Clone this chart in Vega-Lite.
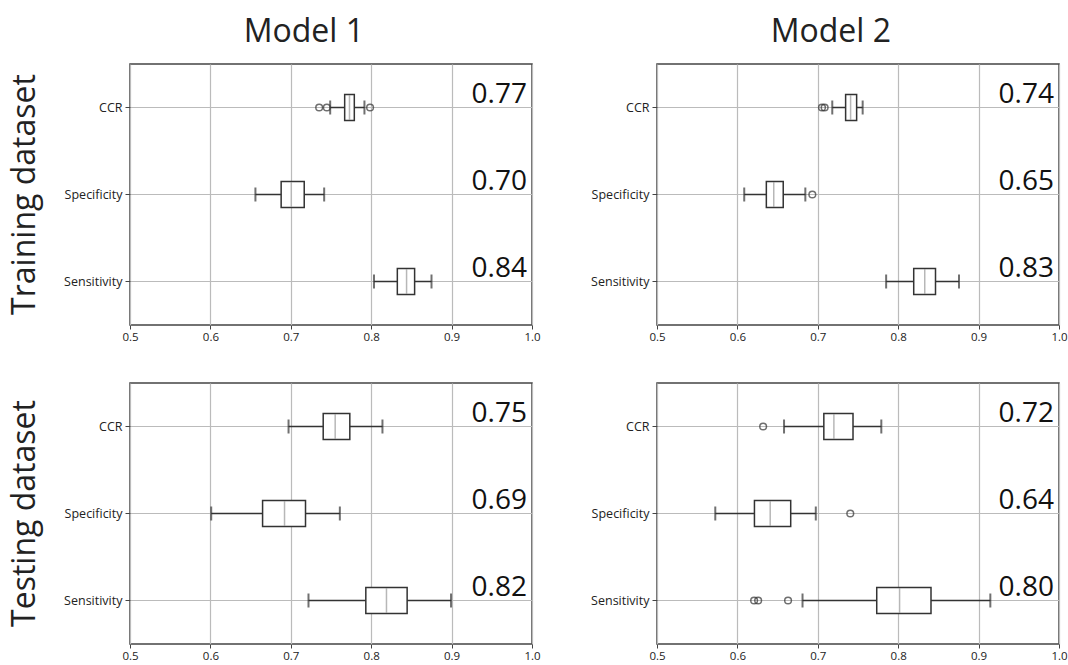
{
  "$schema": "https://vega.github.io/schema/vega-lite/v6.json",
  "padding": {"left": 8, "top": 16, "right": 5, "bottom": 5},
  "data": {
    "values": [
      {"kind": "box", "dataset": "Training dataset", "model": "Model 1", "metric": "CCR", "min": 0.749, "q1": 0.767, "median": 0.773, "q3": 0.779, "max": 0.7916, "label": "0.77"},
      {"kind": "box", "dataset": "Training dataset", "model": "Model 1", "metric": "Specificity", "min": 0.656, "q1": 0.688, "median": 0.7006, "q3": 0.7167, "max": 0.7415, "label": "0.70"},
      {"kind": "box", "dataset": "Training dataset", "model": "Model 1", "metric": "Sensitivity", "min": 0.8035, "q1": 0.8325, "median": 0.844, "q3": 0.854, "max": 0.875, "label": "0.84"},
      {"kind": "out", "dataset": "Training dataset", "model": "Model 1", "metric": "CCR", "value": 0.7353},
      {"kind": "out", "dataset": "Training dataset", "model": "Model 1", "metric": "CCR", "value": 0.7448},
      {"kind": "out", "dataset": "Training dataset", "model": "Model 1", "metric": "CCR", "value": 0.7986},

      {"kind": "box", "dataset": "Training dataset", "model": "Model 2", "metric": "CCR", "min": 0.718, "q1": 0.7346, "median": 0.7408, "q3": 0.7483, "max": 0.7558, "label": "0.74"},
      {"kind": "box", "dataset": "Training dataset", "model": "Model 2", "metric": "Specificity", "min": 0.6085, "q1": 0.636, "median": 0.6452, "q3": 0.657, "max": 0.6845, "label": "0.65"},
      {"kind": "box", "dataset": "Training dataset", "model": "Model 2", "metric": "Sensitivity", "min": 0.785, "q1": 0.8193, "median": 0.833, "q3": 0.8464, "max": 0.8756, "label": "0.83"},
      {"kind": "out", "dataset": "Training dataset", "model": "Model 2", "metric": "CCR", "value": 0.7052},
      {"kind": "out", "dataset": "Training dataset", "model": "Model 2", "metric": "CCR", "value": 0.7085},
      {"kind": "out", "dataset": "Training dataset", "model": "Model 2", "metric": "Specificity", "value": 0.6932},

      {"kind": "box", "dataset": "Testing dataset", "model": "Model 1", "metric": "CCR", "min": 0.6972, "q1": 0.7403, "median": 0.7552, "q3": 0.7734, "max": 0.814, "label": "0.75"},
      {"kind": "box", "dataset": "Testing dataset", "model": "Model 1", "metric": "Specificity", "min": 0.601, "q1": 0.6649, "median": 0.6922, "q3": 0.7183, "max": 0.761, "label": "0.69"},
      {"kind": "box", "dataset": "Testing dataset", "model": "Model 1", "metric": "Sensitivity", "min": 0.722, "q1": 0.7933, "median": 0.819, "q3": 0.8447, "max": 0.8993, "label": "0.82"},

      {"kind": "box", "dataset": "Testing dataset", "model": "Model 2", "metric": "CCR", "min": 0.658, "q1": 0.7075, "median": 0.72, "q3": 0.7438, "max": 0.779, "label": "0.72"},
      {"kind": "box", "dataset": "Testing dataset", "model": "Model 2", "metric": "Specificity", "min": 0.5725, "q1": 0.6212, "median": 0.6408, "q3": 0.6663, "max": 0.6975, "label": "0.64"},
      {"kind": "box", "dataset": "Testing dataset", "model": "Model 2", "metric": "Sensitivity", "min": 0.681, "q1": 0.7733, "median": 0.8017, "q3": 0.8408, "max": 0.9146, "label": "0.80"},
      {"kind": "out", "dataset": "Testing dataset", "model": "Model 2", "metric": "CCR", "value": 0.632},
      {"kind": "out", "dataset": "Testing dataset", "model": "Model 2", "metric": "Specificity", "value": 0.7404},
      {"kind": "out", "dataset": "Testing dataset", "model": "Model 2", "metric": "Sensitivity", "value": 0.6208},
      {"kind": "out", "dataset": "Testing dataset", "model": "Model 2", "metric": "Sensitivity", "value": 0.6258},
      {"kind": "out", "dataset": "Testing dataset", "model": "Model 2", "metric": "Sensitivity", "value": 0.663}
    ]
  },
  "facet": {
    "row": {
      "field": "dataset", "type": "nominal", "sort": ["Training dataset", "Testing dataset"],
      "header": {"title": null, "labelAngle": -90, "labelFont": "Open Sans", "labelFontSize": 32, "labelColor": "#222", "labelPadding": 5}
    },
    "column": {
      "field": "model", "type": "nominal", "sort": ["Model 1", "Model 2"],
      "header": {"title": null, "labelFont": "Open Sans", "labelFontSize": 32, "labelColor": "#222", "labelPadding": 14,
        "labelExpr": "datum.value + '\u00a0\u2800\u2800'"}
    }
  },
  "spacing": {"row": 38, "column": 48},
  "resolve": {"axis": {"x": "independent", "y": "independent"}},
  "spec": {
    "width": 402,
    "height": 261,
    "encoding": {
      "y": {
        "field": "metric", "type": "nominal", "sort": ["CCR", "Specificity", "Sensitivity"],
        "scale": {"type": "band", "paddingInner": 0, "paddingOuter": 0},
        "axis": {"title": null}
      }
    },
    "layer": [
      {
        "transform": [{"filter": "datum.kind === 'box'"}],
        "mark": {"type": "rule", "color": "#333", "strokeWidth": 1.5},
        "encoding": {
          "x": {"field": "min", "type": "quantitative", "scale": {"domain": [0.5, 1.0], "nice": false, "zero": false},
            "axis": {"title": null, "values": [0.5, 0.6, 0.7, 0.8, 0.9, 1.0], "format": ".1f"}},
          "x2": {"field": "max"}
        }
      },
      {
        "transform": [{"filter": "datum.kind === 'box'"}],
        "mark": {"type": "bar", "size": 26, "fill": "white", "stroke": "#333", "strokeWidth": 1.5},
        "encoding": {
          "x": {"field": "q1", "type": "quantitative"},
          "x2": {"field": "q3"}
        }
      },
      {
        "transform": [{"filter": "datum.kind === 'box'"}],
        "mark": {"type": "tick", "orient": "vertical", "size": 25, "thickness": 1.5, "color": "#999"},
        "encoding": {
          "x": {"field": "median", "type": "quantitative"}
        }
      },
      {
        "transform": [{"filter": "datum.kind === 'box'"}, {"fold": ["min", "max"], "as": ["end", "endValue"]}],
        "mark": {"type": "tick", "orient": "vertical", "size": 14, "thickness": 2, "color": "#333"},
        "encoding": {
          "x": {"field": "endValue", "type": "quantitative"}
        }
      },
      {
        "transform": [{"filter": "datum.kind === 'out'"}],
        "mark": {"type": "point", "shape": "circle", "filled": false, "size": 45, "stroke": "#333", "strokeWidth": 1.5},
        "encoding": {
          "x": {"field": "value", "type": "quantitative"}
        }
      },
      {
        "transform": [{"filter": "datum.kind === 'box'"}],
        "mark": {"type": "text", "align": "right", "baseline": "middle", "dx": -5, "dy": -13, "font": "Open Sans", "fontSize": 28, "color": "#111"},
        "encoding": {
          "x": {"datum": 1.0, "type": "quantitative"},
          "text": {"field": "label"}
        }
      }
    ]
  },
  "config": {
    "view": {"stroke": "#444", "strokeWidth": 1.5},
    "axis": {
      "grid": true, "gridColor": "#bbb", "gridWidth": 1.2, "domain": false,
      "tickColor": "#444", "labelColor": "#222", "labelFont": "Open Sans"
    },
    "axisY": {"bandPosition": 0.5, "tickSize": 5, "labelPadding": 3, "labelFontSize": 12.5},
    "axisX": {"labelFlush": false, "tickSize": 4, "labelPadding": 2, "labelFontSize": 11.5}
  }
}
